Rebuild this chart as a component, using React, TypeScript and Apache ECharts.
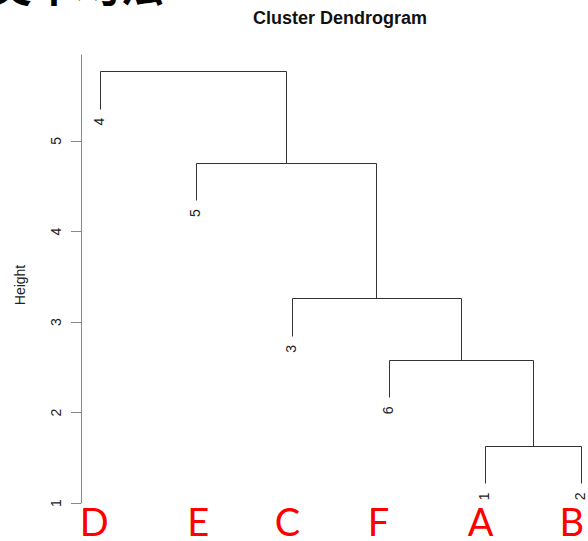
import React, { useEffect, useRef } from "react";
import * as echarts from "echarts";

// Leaf order along the x axis (R hclust labels)
const leafLabels = ["4", "5", "3", "6", "1", "2"];
// Slide annotations under each leaf
const slideLetters = ["D", "E", "C", "F", "A", "B"];
// Merge structure (negative = leaf position, positive = merge index), R style
const mergeLeft = [-5, -4, -3, -2, -1];
const mergeRight = [-6, 1, 2, 3, 4];
const mergeHeights = [1.63, 2.58, 3.26, 4.76, 5.77];
const yTicks = [1, 2, 3, 4, 5];

export default function App() {
  const ref = useRef<HTMLDivElement>(null);
  useEffect(() => {
    if (!ref.current) return;
    const chart = echarts.init(ref.current, null, { renderer: "svg" });
    const hang = 0.1 * (Math.max(...mergeHeights) - Math.min(...mergeHeights));

    const leafParentH: number[] = new Array(leafLabels.length).fill(0);
    const mergeX: number[] = [];
    const nodeX = (n: number) => (n < 0 ? -n : mergeX[n - 1]);
    mergeHeights.forEach((h, i) => {
      [mergeLeft[i], mergeRight[i]].forEach((c) => {
        if (c < 0) leafParentH[-c - 1] = h;
      });
      mergeX.push((nodeX(mergeLeft[i]) + nodeX(mergeRight[i])) / 2);
    });
    const nodeY = (n: number, parentH: number) => (n < 0 ? parentH - hang : mergeHeights[n - 1]);
    const crisp = (p: number[]) => [Math.round(p[0]) + 0.5, Math.round(p[1]) + 0.5];

    const option: any = {
      animation: false,
      backgroundColor: "#ffffff",
      grid: { left: 81, right: 0, top: 55, bottom: 38, containLabel: false },
      xAxis: {
        type: "value",
        min: 0.8,
        max: 6.076,
        show: false,
      },
      yAxis: {
        type: "value",
        min: 1,
        max: 5.95,
        splitLine: { show: false },
        axisLine: { show: true, lineStyle: { color: "#888", width: 1 } },
        axisTick: { show: true, length: 10, customValues: yTicks, lineStyle: { color: "#888" } },
        axisLabel: {
          customValues: yTicks,
          rotate: 90,
          margin: 18,
          fontSize: 14,
          color: "#222",
          fontFamily: "Liberation Sans, Arial, sans-serif",
        },
        name: "Height",
        nameLocation: "middle",
        nameRotate: 90,
        nameGap: 54,
        nameTextStyle: {
          fontSize: 14,
          color: "#222",
          padding: [0, 12, 0, 0],
          fontFamily: "Liberation Sans, Arial, sans-serif",
        },
      },
      graphic: [
        {
          type: "text",
          x: -12,
          y: -39,
          style: {
            text: "类平均法",
            fontSize: 44,
            fontWeight: "bold",
            fill: "#000",
            verticalAlign: "top",
            fontFamily: "Noto Sans CJK SC, sans-serif",
          },
        },
        {
          type: "text",
          x: 340,
          y: 18,
          style: {
            text: "Cluster Dendrogram",
            fontSize: 18,
            fontWeight: "bold",
            fill: "#111",
            align: "center",
            verticalAlign: "middle",
            fontFamily: "Liberation Sans, Arial, sans-serif",
          },
        },
      ],
      series: [
        {
          type: "custom",
          coordinateSystem: "cartesian2d",
          data: mergeHeights.map((h, i) => [mergeX[i], h]),
          renderItem: (params: any, api: any) => {
            const i = params.dataIndex;
            const h = mergeHeights[i];
            const l = mergeLeft[i];
            const r = mergeRight[i];
            const pts = [
              [nodeX(l), nodeY(l, h)],
              [nodeX(l), h],
              [nodeX(r), h],
              [nodeX(r), nodeY(r, h)],
            ].map((p) => crisp(api.coord(p)));
            return {
              type: "polyline",
              shape: { points: pts },
              style: { stroke: "#333", lineWidth: 1, fill: null },
            };
          },
          silent: true,
        },
        {
          type: "custom",
          coordinateSystem: "cartesian2d",
          data: leafLabels.map((_, i) => [i + 1, leafParentH[i] - hang]),
          renderItem: (params: any, api: any) => {
            const i = params.dataIndex;
            const p = api.coord([i + 1, leafParentH[i] - hang]);
            return {
              type: "text",
              x: p[0] - 1,
              y: p[1] + 9,
              rotation: Math.PI / 2,
              style: {
                text: leafLabels[i],
                fontSize: 14,
                fill: "#222",
                align: "right",
                verticalAlign: "middle",
                fontFamily: "Liberation Sans, Arial, sans-serif",
              },
            };
          },
          silent: true,
        },
        {
          type: "custom",
          coordinateSystem: "cartesian2d",
          data: slideLetters.map((_, i) => [i + 1, 1]),
          renderItem: (params: any, api: any) => {
            const i = params.dataIndex;
            const p = api.coord([i + 1, 1]);
            const off = [-6, 2, -5, -10, -4, -9][i];
            return {
              type: "text",
              x: p[0] + off,
              y: p[1] + 18,
              style: {
                text: slideLetters[i],
                fontSize: 38,
                lineHeight: 30,
                fill: "#ff0000",
                align: "center",
                verticalAlign: "middle",
                fontFamily: "Lato, sans-serif",
              },
            };
          },
          clip: false,
          silent: true,
        },
      ],
    };
    chart.setOption(option);
    return () => chart.dispose();
  }, []);
  return (
    <div
      ref={ref}
      style={{ position: "fixed", left: 0, top: 0, width: 588, height: 541, background: "#fff" }}
    />
  );
}
